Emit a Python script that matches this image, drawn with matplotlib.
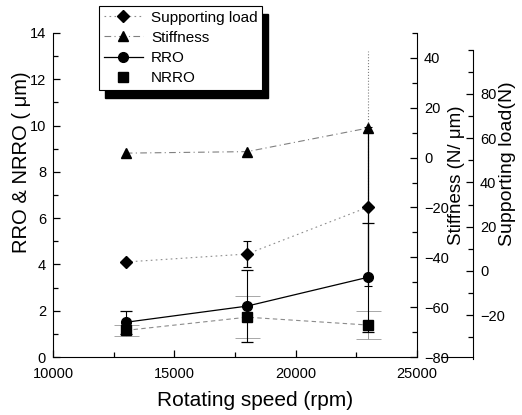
import matplotlib
matplotlib.use('Agg')
import matplotlib.pyplot as plt
from matplotlib.patches import Rectangle
from matplotlib.ticker import MultipleLocator

plt.rcParams['font.family'] = ['Liberation Sans', 'DejaVu Sans']

speed = [13000, 18000, 23000]
load = [4.0, 7.6, 28.9]
load_err = [1.0, 6.0, 36.0]
stiffness = [1.8, 2.4, 11.9]
stiffness_err = [0.0, 0.0, 31.0]
rro = [1.5, 2.2, 3.45]
rro_err = [0.5, 1.55, 2.35]
nrro = [1.15, 1.72, 1.38]
nrro_err = [0.25, 0.9, 0.62]

fig = plt.figure(figsize=(5.22, 4.15), dpi=100)
ax = fig.add_axes([53 / 522, 1 - 357 / 415, 364 / 522, 324 / 415])
ax2 = ax.twinx()
ax3 = ax.twinx()

# left axis: RRO & NRRO
ax.plot(speed, nrro, ls=(0, (4, 3)), color='0.55', lw=0.8)
h_nrro = ax.errorbar(speed, nrro, yerr=nrro_err, fmt='s', color='black', ms=6.5,
                     ecolor='0.6', elinewidth=0.7, capsize=9, capthick=0.6,
                     label='NRRO')
h_rro = ax.errorbar(speed, rro, yerr=rro_err, fmt='o-', color='black', ms=7,
                    lw=0.9, elinewidth=0.8, capsize=4, capthick=0.9, label='RRO')

ax.set_xlim(10000, 25000)
ax.set_ylim(0, 14)
ax.xaxis.set_major_locator(MultipleLocator(5000))
ax.xaxis.set_minor_locator(MultipleLocator(2500))
ax.yaxis.set_major_locator(MultipleLocator(2))
ax.yaxis.set_minor_locator(MultipleLocator(1))
ax.tick_params(which='both', direction='in', labelsize=10.5, width=0.9)
ax.tick_params(which='major', length=5, pad=5)
ax.tick_params(which='minor', length=3.5)
ax.tick_params(axis='x', pad=7)
ax.spines['top'].set_visible(False)
ax.spines['right'].set_visible(False)
ax.set_xlabel('Rotating speed (rpm)', fontsize=15)
ax.set_ylabel('RRO & NRRO ( μm)', fontsize=14.5)
ax.xaxis.set_label_coords(0.555, -0.105)
ax.yaxis.set_label_coords(-0.06, 0.6)

# stiffness axis
h_st = ax2.errorbar(speed, stiffness, yerr=stiffness_err, fmt='^', ls=(0, (6, 3, 1, 3)),
                    color='black', ms=7, lw=0.8, elinewidth=0.8, ecolor='0.5',
                    capsize=0, label='Stiffness')
h_st[0].set_color('0.5')
h_st[0].set_markerfacecolor('black')
h_st[0].set_markeredgecolor('black')
for bar in h_st[2]:
    bar.set_linestyle(':')
ax2.set_ylim(-80, 50)
ax2.yaxis.set_minor_locator(MultipleLocator(10))
ax2.set_yticks([-80, -60, -40, -20, 0, 20, 40])
ax2.tick_params(which='both', direction='in', labelsize=10.5, width=0.9)
ax2.tick_params(which='major', length=5, pad=5)
ax2.tick_params(which='minor', length=3.5)
for s in ['top', 'left', 'bottom']:
    ax2.spines[s].set_visible(False)
ax2.set_ylabel('Stiffness (N/ μm)', fontsize=13.5)
ax2.yaxis.set_label_coords(1.084, 0.562)

# supporting load axis
h_ld = ax3.errorbar(speed, load, yerr=load_err, fmt='D', ls=(0, (1.5, 3)),
                    color='black', ms=6, lw=0.8, elinewidth=0.9, capsize=3,
                    capthick=0.8, label='Supporting load')
h_ld[0].set_color('0.55')
h_ld[0].set_markerfacecolor('black')
h_ld[0].set_markeredgecolor('black')
ax3.set_ylim(-39, 107.6)
ax3.spines['right'].set_position(('axes', 1.154))
ax3.spines['right'].set_bounds(-40, 100)
ax3.set_yticks([-20, 0, 20, 40, 60, 80])
ax3.yaxis.set_minor_locator(MultipleLocator(10))
ax3.spines['bottom'].set_bounds(26000, 27300)
ax3.spines['top'].set_visible(False)
ax3.spines['left'].set_visible(False)
ax3.tick_params(axis='x', bottom=False, labelbottom=False)
ax3.tick_params(axis='y', which='both', direction='in', labelsize=10.5, width=0.9)
ax3.tick_params(axis='y', which='major', length=5, pad=5)
ax3.tick_params(axis='y', which='minor', length=3.5)
ax3.set_ylabel('Supporting load(N)', fontsize=14)
ax3.yaxis.set_label_coords(1.225, 0.596)

handles = [h_ld[0], h_st[0], h_rro[0], h_nrro[0]]
labels = ['Supporting load', 'Stiffness', 'RRO', 'NRRO']
leg = fig.legend(handles, labels, loc='upper left', bbox_to_anchor=(99 / 522, 1 - 6 / 415),
                 fontsize=11, frameon=True, fancybox=False, edgecolor='black',
                 framealpha=1, handlelength=2.6, handletextpad=0.5, labelspacing=0.41,
                 borderpad=0.3, borderaxespad=0)
leg.get_frame().set_linewidth(0.8)
leg.set_zorder(10)

# heavy drop shadow behind the legend
fig.canvas.draw()
bb = leg.get_window_extent().transformed(fig.transFigure.inverted())
fig.patches.append(Rectangle((bb.x0 + 6 / 522, bb.y0 - 8 / 415), bb.width, bb.height,
                             transform=fig.transFigure, color='black', zorder=5))

fig.savefig('out.png', dpi=100)
